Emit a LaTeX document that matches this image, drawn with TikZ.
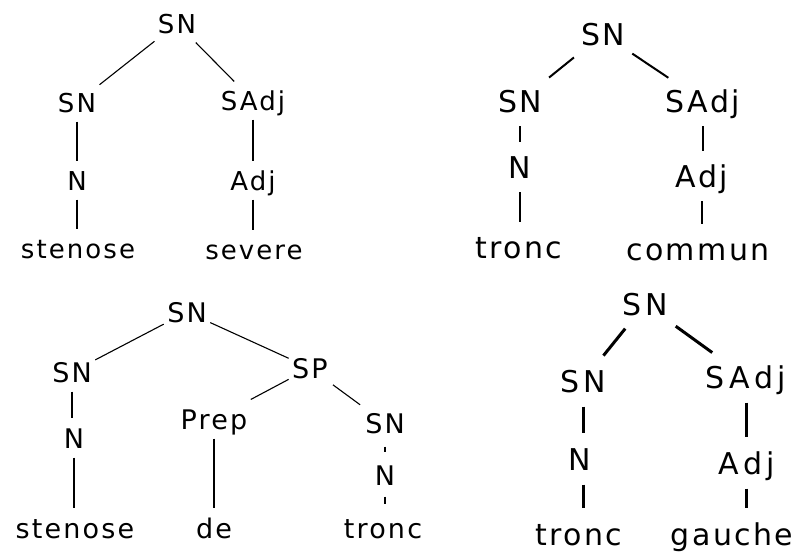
\documentclass[tikz,border=0pt]{standalone}
\usepackage{fontspec}
\setmainfont{DejaVu Sans}
\newfontfamily\catfont{DejaVu Sans}[LetterSpace=8]
\newfontfamily\catfontwide{DejaVu Sans}[LetterSpace=15]

\begin{document}
\begin{tikzpicture}[
        x=1pt, y=-1pt,
        cat/.style={anchor=base, inner xsep=3pt, inner ysep=9pt, text depth=0pt},
        label A/.style={cat, text height=19pt, font=\catfont\fontsize{26}{30}\selectfont},
        label B/.style={cat, text height=22pt, font=\catfont\fontsize{30}{36}\selectfont},
        label C/.style={cat, text height=20pt, font=\catfont\fontsize{27}{32}\selectfont},
        label D/.style={cat, text height=22pt, font=\catfontwide\fontsize{30}{36}\selectfont},
        word D/.style={cat, text height=22pt, font=\catfont\fontsize{30}{36}\selectfont}
    ]
    \useasboundingbox (0,0) rectangle (801,552);

    % stenose severe
    \begin{scope}[every node/.style={label A}, line width=1.1pt]
        \node (snA) at (177,33) {SN};
        \node (snA1) at (77,112) {SN};
        \node (sadjA) at (253,110) {SAdj};
        \node (nA) at (77,190) {N};
        \node (adjA) at (253,190) {Adj};
        \node (stenoseA) at (78,258) {stenose};
        \node (severeA) at (254,259) {severe};

        \draw (snA) -- (snA1);
        \draw (snA) -- (sadjA);
        \draw (snA1) -- (snA1 |- nA.north);
        \draw (nA) -- (nA |- stenoseA.north);
        \draw (sadjA) -- (sadjA |- adjA.north);
        \draw (adjA) -- (adjA |- severeA.north);
    \end{scope}

    % tronc commun
    \begin{scope}[every node/.style={label B}, line width=2pt, shorten <=4pt, shorten >=4pt]
        \node (snB) at (603,45) {SN};
        \node (snB1) at (520,112) {SN};
        \node (sadjB) at (703,112) {SAdj};
        \node (nB) at (520,178) {N};
        \node (adjB) at (702,187) {Adj};
        \node (troncB) at (519,258) {tronc};
        \node (communB) at (698,260) {commun};

        \draw (snB) -- (snB1);
        \draw (snB) -- (sadjB);
        \draw (snB1) -- (snB1 |- nB.north);
        \draw (nB) -- (nB |- troncB.north);
        \draw (sadjB) -- (sadjB |- adjB.north);
        \draw (adjB) -- (adjB |- communB.north);
    \end{scope}

    % stenose de tronc
    \begin{scope}[every node/.style={label C}, line width=1.1pt]
        \node (snC) at (187,322) {SN};
        \node (snC1) at (72,382) {SN};
        \node (spC) at (310,378) {SP};
        \node (nC) at (74,448) {N};
        \node (prepC) at (214,429) {Prep};
        \node (snC2) at (385,433) {SN};
        \node (nC2) at (385,485) {N};
        \node (stenoseC) at (75,538) {stenose};
        \node (deC) at (214,538) {de};
        \node (troncC) at (383,538) {tronc};

        \draw (snC) -- (snC1);
        \draw (snC) -- (spC);
        \draw (spC) -- (prepC);
        \draw[shorten <=2pt, shorten >=2pt] (spC) -- (snC2);
        \draw (snC1) -- (snC1 |- nC.north);
        \draw (nC) -- (nC |- stenoseC.north);
        \draw (prepC) -- (prepC |- deC.north);
        \draw[shorten <=4pt, shorten >=3pt] (snC2) -- (snC2 |- nC2.north);
        \draw[shorten <=2pt, shorten >=4pt] (nC2) -- (nC2 |- troncC.north);
    \end{scope}

    % tronc gauche
    \begin{scope}[every node/.style={label D}, line width=3pt, shorten <=4pt, shorten >=5pt]
        \node (snD) at (645,315) {SN};
        \node (snD1) at (583,392) {SN};
        \node (sadjD) at (746,388) {SAdj};
        \node (nD) at (580,470) {N};
        \node (adjD) at (747,474) {Adj};
        \node[word D] (troncD) at (579,545) {tronc};
        \node[word D] (gaucheD) at (732,545) {gauche};

        \draw (snD) -- (snD1);
        \draw (snD) -- (sadjD);
        \draw (snD1) -- (snD1 |- nD.north);
        \draw (snD1 |- nD.south) -- (snD1 |- troncD.north);
        \draw (sadjD) -- (sadjD |- adjD.north);
        \draw (sadjD |- adjD.south) -- (sadjD |- gaucheD.north);
    \end{scope}
\end{tikzpicture}
\end{document}
